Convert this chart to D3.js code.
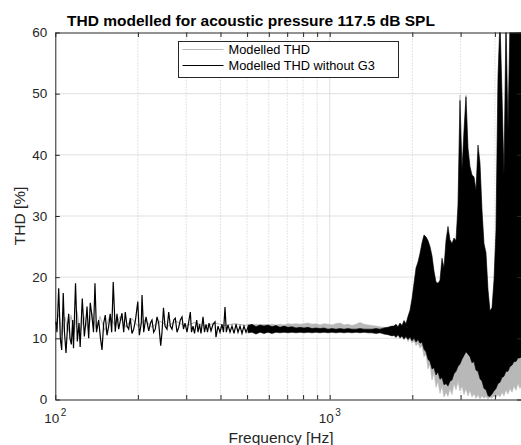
<!DOCTYPE html>
<html>
<head>
<meta charset="utf-8">
<script src="https://cdn.jsdelivr.net/npm/d3@7"></script>
<style>
  body { margin: 0; background: #fff; }
  svg { display: block; }
  text { font-family: "Liberation Sans", Arial, Helvetica, sans-serif; }
</style>
</head>
<body>
<svg id="chart" width="521" height="445"></svg>
<script>
// ---- data ----
// low-frequency part, drawn as lines (Hz, THD %)
const lfFreq = [
  100.0, 100.6, 101.4, 102.9, 104.3, 105.5, 106.9, 108.0, 109.4, 110.8, 111.9,
  113.1, 114.4, 115.7, 116.5, 118.5, 120.3, 122.0, 123.2, 125.4, 127.6,
  129.4, 130.5, 132.3, 134.1, 136.1, 137.8, 139.5, 141.3, 143.9, 146.1,
  148.0, 150.1, 152.1, 154.3, 156.5, 158.6, 160.5, 162.6, 165.4, 167.8,
  170.2, 172.8, 175.0, 177.5, 179.9, 182.5, 185.1, 187.6, 190.3, 193.1,
  196.0, 199.8, 202.4, 205.8, 207.0, 210.0, 212.3, 214.1, 219.0, 222.3,
  225.1, 228.3, 231.4, 234.8, 238.1, 242.2, 244.8, 247.9, 251.1, 255.3,
  259.0, 262.5, 266.3, 270.1, 273.7, 277.7, 281.7, 285.5, 289.6, 293.2,
  297.0, 302.0, 305.8, 310.5, 313.6, 317.6, 321.6, 327.6, 331.2, 335.4,
  339.6, 345.4, 349.7, 354.2, 358.7, 363.2, 369.4, 375.6, 381.9, 385.1,
  391.7, 398.3, 405.0, 410.2, 415.4, 420.0, 426.0, 433.2, 440.5, 448.0,
  455.6, 463.3, 471.1, 479.1, 487.1, 495.4, 503.8, 512.3
];
const noG3LF = [
  12.3, 12.7, 11, 18.2, 10, 8.1, 17.4, 11, 7.6, 12, 14,
  10, 9, 13, 8.4, 19.0, 9.5, 12.5, 8.6, 16.5, 10.3,
  13, 15.2, 10, 15.8, 13.5, 11, 19.0, 11, 13, 10,
  8.1, 12.5, 13.8, 10.5, 12, 14, 11, 19.2, 11.1, 14,
  11.5, 13, 14.1, 11, 14.3, 12, 11.5, 13.3, 10.8, 11.5,
  13, 16.0, 10.5, 12.5, 17.1, 11, 12.5, 13.5, 11.2, 12.5,
  13, 11, 11.5, 13.5, 12.5, 8.8, 11, 15, 12, 11.5,
  14.3, 12, 11.5, 13, 13.3, 11, 11.8, 13, 13.5, 11.5,
  12.5, 11, 12.5, 14.3, 11, 12, 10.8, 13, 11, 12.3,
  10.8, 13.5, 11, 12.3, 11, 12.5, 11.2, 12.3, 12.7, 10.2,
  12, 11, 12.3, 11, 15.1, 11, 12.2, 11, 12, 10.8,
  12.3, 11, 12, 10.8, 12, 11, 11.8, 11
];
const thdLFFreq = [
  100.0, 103.2, 105.8, 108.5, 111.2, 114.1, 117.0, 120.0, 123.0, 127.2,
  131.6, 136.1, 140.7, 145.5, 151.7, 158.2, 165.0, 172.1, 181.0, 190.3,
  200.2, 212.3, 225.1, 240.7, 257.5, 275.3, 297.0, 322.9, 351.2, 381.9,
  415.4, 451.7, 491.2, 512.3
];
const thdLF = [
  12.5, 14, 10.5, 13.5, 11, 13.8, 10.8, 14.5, 11, 13.5,
  11.5, 14, 11.8, 13.5, 11.3, 13.8, 12, 13.5, 11.8, 13.2,
  12, 13, 11.8, 12.8, 12, 12.8, 12, 12.6, 12, 12.5,
  12.1, 12.4, 12.1, 12.3
];

// upper part, so dense that it reads as a filled band (Hz, min/max THD %)
const bandFreq = [
  503.8, 521.0, 538.8, 557.2, 576.2, 595.9, 616.2, 637.2, 659.0, 681.5,
  704.8, 728.8, 753.7, 779.5, 806.1, 833.6, 862.1, 891.5, 921.9, 953.4,
  985.9, 1019.6, 1054.4, 1090.4, 1127.6, 1166.1, 1205.9, 1247.1, 1289.6, 1333.7,
  1379.2, 1426.2, 1474.9, 1525.3, 1577.3, 1631.2, 1686.8,
  1715.3, 1744.3, 1773.8, 1803.8, 1834.3, 1865.4, 1897.0, 1929.1, 1961.7, 1994.9,
  2028.7, 2063.0, 2097.9, 2133.4, 2169.5, 2206.2, 2243.5, 2281.5, 2320.1, 2359.4,
  2399.3, 2439.9, 2481.2, 2523.2, 2565.9, 2609.3, 2653.5, 2698.4, 2744.0, 2790.5,
  2837.7, 2885.7, 2934.5, 2984.2, 3034.7, 3086.1, 3138.3, 3191.4, 3245.4, 3300.3,
  3356.2, 3413.0, 3470.7, 3529.5, 3589.2, 3649.9, 3711.7, 3774.5, 3838.4, 3903.3,
  3969.4, 4036.5, 4104.8, 4174.3, 4244.9, 4316.8, 4389.8, 4464.1, 4539.7, 4616.5,
  4694.6, 4774.1, 4854.9, 4937.0, 5000
];
const noG3Upper = [
  12.1, 12.3, 11.9, 12.2, 12.0, 12.2, 11.9, 12.1, 11.8, 12.0,
  11.8, 11.9, 11.7, 11.8, 11.7, 11.8, 11.6, 11.7, 11.6, 11.7,
  11.5, 11.6, 11.5, 11.6, 11.5, 11.6, 11.5, 11.5, 11.6, 11.5,
  11.5, 11.5, 11.6, 11.5, 11.7, 11.8, 12.0,
  12.0, 12.3, 11.9, 12.5, 12.1, 12.9, 12.4, 13.6, 14.6, 16.5,
  19.0, 21.5, 22.5, 23.9, 25.6, 26.9, 26.6, 26.0, 25.0, 23.5,
  21.0, 19.2, 19.0, 19.5, 23.1, 21.5, 26.0, 28.3, 26.1, 25.5,
  26.4, 26.0, 31.8, 48.9, 37.5, 44.0, 49.5, 41.1, 38.1, 36.7,
  36.4, 34.2, 41.6, 38.7, 31.0, 25.5, 24.0, 18.0, 14.5, 15.0,
  19.5, 27.7, 52.8, 62, 50, 36.5, 62, 44, 62, 62,
  62, 62, 62, 62, 62
];
const noG3Lower = [
  10.9, 11.0, 10.7, 11.0, 10.8, 11.0, 10.8, 11.0, 10.9, 11.0,
  10.9, 11.0, 10.9, 11.0, 10.9, 11.0, 10.9, 11.0, 10.9, 11.0,
  10.9, 11.0, 10.9, 11.0, 10.9, 11.0, 10.9, 11.0, 10.9, 11.0,
  10.9, 10.9, 10.8, 10.9, 10.7, 10.6, 10.4,
  10.5, 10.2, 10.6, 10.1, 10.4, 9.9, 10.3, 9.8, 10.2, 9.6,
  10.0, 9.4, 9.8, 9.2, 9.4, 8.2, 7.8, 6.6, 6.2, 5.0,
  5.2, 4.0, 4.5, 3.3, 3.6, 2.4, 2.6, 2.2, 3.0, 3.2,
  4.2, 4.6, 5.4, 5.8, 6.6, 7.2, 7.8, 7.4, 7.0, 6.0,
  6.2, 4.8, 4.6, 3.4, 3.0, 1.8, 1.6, 0.6, 0.5, 0.9,
  1.4, 1.8, 2.6, 2.8, 3.6, 3.8, 4.6, 4.6, 5.4, 5.6,
  6.2, 6.2, 6.8, 6.8, 7.0
];
const thdUpper = [
  12.3, 12.2, 12.3, 12.2, 12.3, 12.2, 12.3, 12.2, 12.3, 12.2,
  12.4, 12.3, 12.4, 12.3, 12.4, 12.5, 12.3, 12.4, 12.2, 12.4,
  12.3, 12.2, 12.4, 12.5, 12.2, 12.3, 12.1, 12.3, 12.6, 12.3,
  12.2, 12.1, 12.0, 11.9, 11.8, 11.8, 11.9,
  11.8, 11.9, 11.7, 12.0, 11.8, 12.2, 12.0, 12.6, 13.5, 15.5,
  18.0, 20.0, 21.5, 22.5, 24.5, 25.5, 25.5, 25.0, 24.0, 22.5,
  20.0, 18.5, 18.0, 18.5, 22.0, 20.5, 25.0, 27.0, 25.0, 24.5,
  25.0, 25.0, 30.0, 49.8, 36.0, 42.0, 49.8, 40.0, 37.0, 35.5,
  35.0, 33.0, 40.0, 37.5, 30.0, 24.5, 23.0, 17.0, 13.5, 14.0,
  18.5, 26.5, 51.0, 60.0, 48.0, 35.0, 60.0, 42.0, 60.0, 60.0,
  60.0, 60.0, 60.0, 60.0, 60.0
];
const thdLower = [
  11.2, 11.3, 11.2, 11.3, 11.2, 11.4, 11.3, 11.3, 11.3, 11.4,
  11.4, 11.4, 11.4, 11.5, 11.5, 11.5, 11.5, 11.5, 11.5, 11.5,
  11.5, 11.5, 11.5, 11.6, 11.5, 11.6, 11.5, 11.5, 11.5, 11.5,
  11.5, 11.4, 11.4, 11.4, 11.3, 11.2, 11.0,
  10.4, 10.0, 10.5, 9.9, 10.3, 9.7, 10.2, 9.5, 10.0, 9.2,
  9.6, 8.8, 9.2, 8.4, 8.8, 7.0, 7.4, 5.0, 5.8, 3.2,
  4.4, 2.0, 3.0, 1.0, 2.2, 0.4, 1.2, 0.5, 1.8, 0.8,
  2.6, 1.6, 3.0, 1.4, 2.2, 0.8, 1.8, 0.6, 1.5, 0.4,
  1.0, 0.2, 0.8, 0.1, 0.6, 0.2, 0.5, 0.1, 0.4, 0.2,
  0.6, 0.3, 0.8, 0.4, 1.2, 0.6, 1.6, 0.9, 1.8, 1.2,
  2.2, 1.5, 2.6, 1.8, 2.4
];

const yTicks = [0, 10, 20, 30, 40, 50, 60];
const xTicks = [100, 200, 300, 400, 500, 600, 700, 800, 900, 1000, 2000, 3000, 4000, 5000];
const xMajor = [100, 1000];
const seriesNames = ["Modelled THD", "Modelled THD without G3"];

// ---- layout ----
const plotLeft = 55.3, plotRight = 521.5, plotTop = 32.5, plotBottom = 399.5;
const axisColor = "#262626";
const grayColor = "#b8b8b8";

const svg = d3.select("#chart");

const x = d3.scaleLog().domain([100, 5000]).range([plotLeft, plotRight]);
const y = d3.scaleLinear().domain([0, 60]).range([plotBottom, plotTop]);

svg.append("defs").append("clipPath").attr("id", "plotClip")
  .append("rect")
  .attr("x", plotLeft).attr("y", plotTop)
  .attr("width", plotRight - plotLeft).attr("height", plotBottom - plotTop);

// grid
const grid = svg.append("g");
grid.selectAll(".ygrid")
  .data(yTicks.filter(v => v > 0 && v < 60))
  .enter().append("line")
  .attr("x1", plotLeft).attr("x2", plotRight)
  .attr("y1", d => y(d)).attr("y2", d => y(d))
  .attr("stroke", "#dfdfdf").attr("stroke-width", 1);
grid.selectAll(".xgrid")
  .data(xTicks.filter(v => v > 100 && v < 5000))
  .enter().append("line")
  .attr("x1", d => x(d)).attr("x2", d => x(d))
  .attr("y1", plotTop).attr("y2", plotBottom)
  .attr("stroke", d => xMajor.includes(d) ? "#dfdfdf" : "#c8c8c8")
  .attr("stroke-width", 1)
  .attr("stroke-dasharray", d => xMajor.includes(d) ? null : "1,2");

// data
const plot = svg.append("g").attr("clip-path", "url(#plotClip)");

const line = d3.line().x(d => x(d[0])).y(d => y(d[1]));
const area = d3.area()
  .x(d => x(d.f))
  .y0(d => y(d.lo))
  .y1(d => y(d.hi));

const thdBand = bandFreq.map((f, i) => ({ f: f, lo: thdLower[i], hi: thdUpper[i] }));
const noG3Band = bandFreq.map((f, i) => ({ f: f, lo: noG3Lower[i], hi: noG3Upper[i] }));

plot.append("path")
  .datum(d3.zip(thdLFFreq, thdLF))
  .attr("d", line)
  .attr("fill", "none").attr("stroke", grayColor).attr("stroke-width", 1.1);
plot.append("path")
  .datum(thdBand)
  .attr("d", area)
  .attr("fill", grayColor).attr("stroke", grayColor).attr("stroke-width", 0.6);

plot.append("path")
  .datum(d3.zip(lfFreq, noG3LF))
  .attr("d", line)
  .attr("fill", "none").attr("stroke", "#000").attr("stroke-width", 1.2)
  .attr("stroke-linejoin", "miter");
plot.append("path")
  .datum(noG3Band)
  .attr("d", area)
  .attr("fill", "#000").attr("stroke", "#000").attr("stroke-width", 0.6);

// axes
const tickLen = 4.5;
const axes = svg.append("g").attr("color", axisColor);

axes.append("g")
  .attr("transform", `translate(0,${plotBottom})`)
  .call(d3.axisBottom(x).tickValues(xTicks).tickSizeInner(-tickLen).tickSizeOuter(0).tickFormat(""));
axes.append("g")
  .attr("transform", `translate(0,${plotTop})`)
  .call(d3.axisTop(x).tickValues(xTicks).tickSizeInner(-tickLen).tickSizeOuter(0).tickFormat(""));
axes.append("g")
  .attr("transform", `translate(${plotLeft},0)`)
  .call(d3.axisLeft(y).tickValues(yTicks).tickSizeInner(-tickLen).tickSizeOuter(0).tickPadding(8))
  .call(g => g.selectAll("text").attr("font-size", 13.5).attr("fill", axisColor)
    .attr("font-family", '"Liberation Sans", Arial, sans-serif'));
axes.append("g")
  .attr("transform", `translate(${plotRight},0)`)
  .call(d3.axisRight(y).tickValues(yTicks).tickSizeInner(-tickLen).tickSizeOuter(0).tickFormat(""));
axes.selectAll(".domain").attr("stroke-width", 1);

// log decade labels 10^2, 10^3
const decLabels = axes.append("g").selectAll("text")
  .data(xMajor)
  .enter().append("text")
  .attr("x", d => x(d))
  .attr("y", 423)
  .attr("text-anchor", "middle")
  .attr("font-size", 13.5)
  .attr("fill", axisColor);
decLabels.append("tspan").text("10");
decLabels.append("tspan")
  .attr("dx", 1.5).attr("dy", -7)
  .attr("font-size", 10)
  .text(d => Math.round(Math.log10(d)));

// labels
svg.append("text")
  .attr("x", 251).attr("y", 25.5)
  .attr("text-anchor", "middle")
  .attr("font-size", 15.5).attr("font-weight", "bold")
  .attr("fill", "#000")
  .text("THD modelled for acoustic pressure 117.5 dB SPL");

svg.append("text")
  .attr("x", 281).attr("y", 443)
  .attr("text-anchor", "middle")
  .attr("font-size", 15.5)
  .attr("fill", axisColor)
  .text("Frequency [Hz]");

svg.append("text")
  .attr("transform", `translate(25,${(plotTop + plotBottom) / 2}) rotate(-90)`)
  .attr("text-anchor", "middle")
  .attr("font-size", 15.5)
  .attr("fill", axisColor)
  .text("THD [%]");

// legend
const legend = svg.append("g").attr("transform", "translate(178.5,41.5)");
legend.append("rect")
  .attr("width", 220).attr("height", 36)
  .attr("fill", "#fff").attr("stroke", axisColor).attr("stroke-width", 1);
const legendColors = [grayColor, "#000"];
const items = legend.selectAll(".item")
  .data(seriesNames)
  .enter().append("g")
  .attr("transform", (d, i) => `translate(0,${8 + i * 16})`);
items.append("line")
  .attr("x1", 4).attr("x2", 45)
  .attr("stroke", (d, i) => legendColors[i]).attr("stroke-width", 1);
items.append("text")
  .attr("x", 50).attr("y", 4.5)
  .attr("font-size", 12.8)
  .attr("fill", "#000")
  .text(d => d);
</script>
</body>
</html>
